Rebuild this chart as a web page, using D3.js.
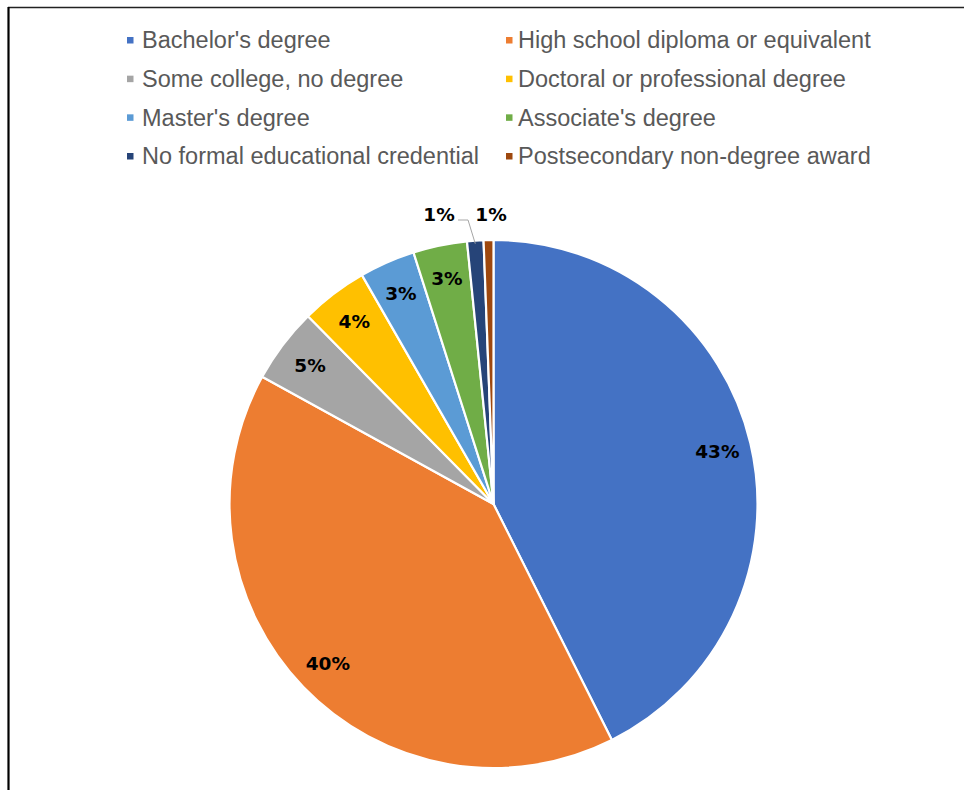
<!DOCTYPE html>
<html>
<head>
<meta charset="utf-8">
<script src="https://cdn.jsdelivr.net/npm/d3@7"></script>
<style>
  html, body { margin: 0; padding: 0; background: #ffffff; }
  svg { display: block; }
</style>
</head>
<body>
<svg id="chart" width="964" height="790"></svg>
<script>
// Share of employment by typical entry-level education (percent)
const categories = [
  "Bachelor's degree",
  "High school diploma or equivalent",
  "Some college, no degree",
  "Doctoral or professional degree",
  "Master's degree",
  "Associate's degree",
  "No formal educational credential",
  "Postsecondary non-degree award"
];
const shares = [42.6, 40.4, 4.6, 4.1, 3.4, 3.3, 1.0, 0.6];
const colors = ["#4472C4", "#ED7D31", "#A5A5A5", "#FFC000", "#5B9BD5", "#70AD47", "#264478", "#9E480E"];
// Slices whose labels sit outside the pie
const outsideLabels = ["No formal educational credential", "Postsecondary non-degree award"];

const width = 964, height = 790;
const cx = 493.5, cy = 504, radius = 264;

const svg = d3.select("#chart");

// Frame lines of the figure box
svg.append("line").attr("x1", 8).attr("x2", width).attr("y1", 7.5).attr("y2", 7.5)
  .attr("stroke", "#222").attr("stroke-width", 1.5);
svg.append("line").attr("x1", 8.5).attr("x2", 8.5).attr("y1", 7).attr("y2", height)
  .attr("stroke", "#000").attr("stroke-width", 2.2);

const data = categories.map((c, i) => ({ name: c, value: shares[i], color: colors[i] }));
const total = d3.sum(shares);
const pct = d3.format(".0%");

const color = d3.scaleOrdinal().domain(categories).range(colors);

// Legend: two columns, four rows
const legend = svg.append("g").attr("font-family", "'Liberation Sans', Arial, sans-serif")
  .attr("font-size", 23.5).attr("fill", "#595959");
const colMarkX = [127, 506], colTextX = [142, 518];
const rowY = d3.scalePoint().domain(d3.range(4)).range([40, 156]);
data.forEach((d, i) => {
  const col = i % 2, row = Math.floor(i / 2);
  const y = rowY(row);
  legend.append("rect").attr("x", colMarkX[col]).attr("y", y - 3).attr("width", 6.5).attr("height", 6.5)
    .attr("fill", color(d.name));
  legend.append("text").attr("x", colTextX[col]).attr("y", y).attr("dy", "0.35em").text(d.name);
});

// Pie
const pie = d3.pie().value(d => d.value).sort(null);
const arcs = pie(data);
const arc = d3.arc().innerRadius(0).outerRadius(radius);
const labelArc = d3.arc().innerRadius(230).outerRadius(230);

const g = svg.append("g").attr("transform", `translate(${cx},${cy})`);
g.selectAll("path.slice").data(arcs).join("path")
  .attr("class", "slice")
  .attr("d", arc)
  .attr("fill", d => color(d.data.name))
  .attr("stroke", "#ffffff")
  .attr("stroke-width", 2.2)
  .attr("stroke-linejoin", "round");

const labelFont = "'DejaVu Sans', Verdana, sans-serif";
const labelSize = 18.5;

// Labels inside the slices
const inside = arcs.filter(d => !outsideLabels.includes(d.data.name));
g.selectAll("text.inlabel").data(inside).join("text")
  .attr("class", "inlabel")
  .attr("transform", d => `translate(${labelArc.centroid(d)})`)
  .attr("text-anchor", "middle")
  .attr("dy", "0.36em")
  .attr("font-family", labelFont)
  .attr("font-weight", "bold")
  .attr("font-size", labelSize)
  .attr("fill", "#000")
  .text(d => pct(d.data.value / total));

// Labels above the pie for thin slices, spread apart so they don't overlap
const outside = arcs.filter(d => outsideLabels.includes(d.data.name)).map(d => {
  const mid = (d.startAngle + d.endAngle) / 2;
  const rr = radius + 26;
  return { d, mid, x: Math.sin(mid) * rr + 3, y: -radius - 26, ax: Math.sin(mid) * radius, ay: -Math.cos(mid) * radius };
});
outside.sort((a, b) => a.x - b.x);
const minGap = 52;
for (let i = outside.length - 2; i >= 0; i--) {
  if (outside[i + 1].x - outside[i].x < minGap) outside[i].x = outside[i + 1].x - minGap;
}
outside.forEach(o => {
  const halfW = 18;
  if (Math.abs(o.x - o.ax) > halfW) {
    // leader line from label to its slice
    const sx = o.x + halfW + 1, sy = o.y + 6;
    g.append("path")
      .attr("d", `M${sx},${sy}H${sx + 10}L${o.ax},${o.ay + 3}`)
      .attr("fill", "none").attr("stroke", "#A6A6A6").attr("stroke-width", 1);
  }
  g.append("text")
    .attr("x", o.x).attr("y", o.y)
    .attr("text-anchor", "middle").attr("dy", "0.36em")
    .attr("font-family", labelFont).attr("font-weight", "bold").attr("font-size", labelSize)
    .attr("fill", "#000")
    .text(pct(o.d.data.value / total));
});
</script>
</body>
</html>
